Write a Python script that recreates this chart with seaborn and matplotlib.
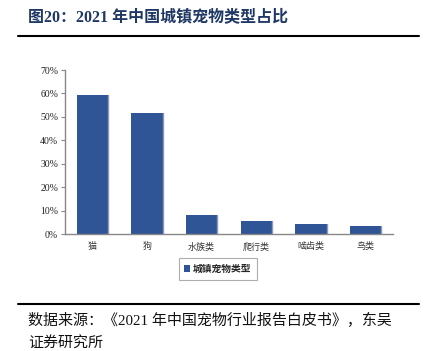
import matplotlib
matplotlib.use("Agg")
import matplotlib.pyplot as plt
import seaborn as sns
import pandas as pd
from matplotlib.patches import Patch
from matplotlib.lines import Line2D

categories = ["猫", "狗", "水族类", "爬行类", "啮齿类", "鸟类"]
values = [59.3, 51.6, 8.1, 5.5, 4.3, 3.4]
series_name = "城镇宠物类型"
yticks = [0, 10, 20, 30, 40, 50, 60, 70]
ytick_labels = ["0%", "10%", "20%", "30%", "40%", "50%", "60%", "70%"]
title = "图20：2021 年中国城镇宠物类型占比"
source_lines = ["数据来源：《2021 年中国宠物行业报告白皮书》，东吴", "证券研究所"]

sns.set_style("white")
plt.rcParams['font.family'] = ['Noto Sans CJK SC', 'DejaVu Sans']
mixed = ['Liberation Serif', 'Noto Sans CJK SC', 'DejaVu Sans']

df = pd.DataFrame({"cat": categories, "val": values})

fig = plt.figure(figsize=(4.32, 3.51), dpi=100)
ax = fig.add_axes([65/432, 1-234/351, (393-65)/432, (234-70)/351])
bar_color = "#2F5597"
sns.barplot(data=df, x="cat", y="val", color=bar_color, width=0.57, ax=ax,
            saturation=1, edgecolor="none")
for p in ax.patches:
    x0 = p.get_x() + p.get_width()
    ax.plot([x0, x0], [0, p.get_height()], color="#8c9bb5", lw=1.0, zorder=3)

ax.set_ylim(0, 70)
ax.set_xlim(-0.5, 5.5)
ax.set_yticks(yticks)
ax.set_yticklabels(ytick_labels, family="Liberation Serif", fontsize=7, color="#222222")
ax.set_xlabel("")
ax.set_ylabel("")
ax.tick_params(axis="x", length=0, labelsize=6.5, pad=6, colors="#333333")
ax.tick_params(axis="y", length=3, width=0.8, direction="out", color="#888888", left=True, pad=2)
for s in ["top", "right"]:
    ax.spines[s].set_visible(False)
for s in ["left", "bottom"]:
    ax.spines[s].set_color("#888888")
    ax.spines[s].set_linewidth(1.0)

handles = [Patch(facecolor=bar_color, edgecolor="none")]
leg = fig.legend(handles, [series_name], loc="center", bbox_to_anchor=(218/432, 1-269/351),
                 frameon=True, fancybox=False, handlelength=0.6, handleheight=0.6,
                 handletextpad=0.3, borderpad=0.6, prop={"weight": "bold", "size": 7})
leg.get_frame().set_edgecolor("#999999")
leg.get_frame().set_linewidth(0.8)

fig.text(28/432, 1-17/351, title, fontsize=11.5, fontweight="bold", color="#1F3864",
         va="center", ha="left", family=mixed)
fig.add_artist(Line2D([18/432, 419/432], [1-36/351, 1-36/351], color="black", lw=1.5))
fig.add_artist(Line2D([18/432, 419/432], [1-304/351, 1-304/351], color="black", lw=1.5))
fig.text(28/432, 1-320/351, source_lines[0], fontsize=10.8, color="#111111", va="center",
         ha="left", family=mixed)
fig.text(28/432, 1-343/351, source_lines[1], fontsize=10.8, color="#111111", va="center",
         ha="left", family=mixed)

fig.savefig("out.png", dpi=100)
